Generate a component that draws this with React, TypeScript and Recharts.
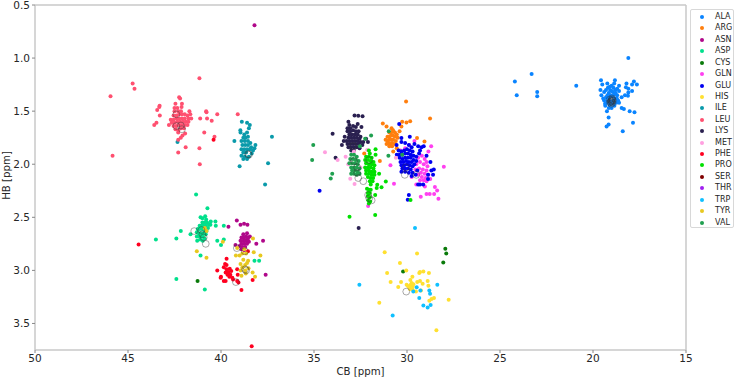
import React from 'react';
import {
  ScatterChart,
  Scatter,
  XAxis,
  YAxis,
  ReferenceLine,
} from 'recharts';

type Pt = [number, number];

const xTicks = [50, 45, 40, 35, 30, 25, 20, 15];
const yTicks = [0.5, 1.0, 1.5, 2.0, 2.5, 3.0, 3.5];

// [CB, HB]
const ALA: Pt[] = [
  [18.1, 1.0], [23.3, 1.15], [24.2, 1.22], [24.1, 1.35], [23.0, 1.32], [23.0, 1.36], [20.9, 1.26],
  [18.82, 1.21], [19.57, 1.21], [19.5, 1.25], [19.23, 1.24], [18.86, 1.24], [18.6, 1.26], [18.2, 1.24],
  [17.8, 1.22], [17.64, 1.25], [17.9, 1.25], [18.1, 1.29], [17.9, 1.31], [18.23, 1.275], [18.1, 1.325],
  [18.28, 1.35], [18.12, 1.355], [18.46, 1.37], [17.77, 1.51], [18.03, 1.5], [18.34, 1.48], [18.46, 1.47],
  [19.16, 1.56], [17.85, 1.61], [19.16, 1.625], [19.27, 1.645], [18.4, 1.69], [19.25, 1.5], [19.34, 1.45],
  [19.6, 1.3], [19.55, 1.35], [19.4, 1.32], [19.3, 1.3], [19.2, 1.28], [19.1, 1.27], [19.0, 1.26],
  [18.9, 1.28], [18.8, 1.3], [18.7, 1.29], [18.6, 1.31], [19.15, 1.33], [19.0, 1.31], [18.85, 1.34],
  [18.7, 1.35], [19.3, 1.37], [19.15, 1.38], [19.0, 1.36], [18.8, 1.38], [18.65, 1.4], [19.4, 1.4],
  [19.25, 1.42], [19.1, 1.44], [18.95, 1.43], [18.75, 1.42], [19.0, 1.47], [19.15, 1.47], [19.45, 1.38],
  [19.08, 1.3], [18.93, 1.32], [18.78, 1.33], [18.95, 1.36], [19.08, 1.35], [19.22, 1.35], [18.72, 1.38],
  [18.9, 1.4], [19.05, 1.41], [19.2, 1.4], [18.85, 1.45], [19.35, 1.43], [18.6, 1.42],
];
const ARG: Pt[] = [
  [30.05, 1.41], [28.76, 1.57], [31.3, 1.616], [31.1, 1.645], [30.83, 1.66], [30.26, 1.6], [30.03, 1.607],
  [29.83, 1.594], [30.3, 1.645], [30.4, 1.69], [29.46, 1.754], [29.06, 1.786], [31.46, 1.97], [32.3, 1.9],
  [30.74, 1.88], [30.55, 1.85], [30.95, 1.7], [30.85, 1.7], [30.75, 1.68], [30.65, 1.7], [30.55, 1.72],
  [31.05, 1.74], [30.95, 1.74], [30.85, 1.73], [30.75, 1.73], [30.65, 1.74], [30.5, 1.75], [31.15, 1.77],
  [31.05, 1.78], [30.95, 1.77], [30.85, 1.77], [30.75, 1.77], [30.6, 1.78], [31.1, 1.81], [31.0, 1.8],
  [30.9, 1.81], [30.8, 1.8], [30.65, 1.81], [30.95, 1.83], [30.8, 1.83],
];
const ASN: Pt[] = [
  [38.2, 0.69], [39.15, 2.53], [38.95, 2.57], [38.76, 2.56], [38.58, 2.57], [39.6, 2.59], [37.74, 2.72],
  [38.1, 2.75], [37.6, 3.04], [39.22, 2.76], [38.8, 2.66], [38.6, 2.65], [38.45, 2.68], [38.9, 2.69],
  [38.75, 2.69], [38.65, 2.68], [38.55, 2.7], [38.95, 2.72], [38.8, 2.72], [38.7, 2.72], [38.6, 2.72],
  [38.5, 2.73], [38.9, 2.75], [38.75, 2.75], [38.6, 2.75], [39.0, 2.77], [38.85, 2.78], [38.7, 2.78],
  [38.9, 2.8], [38.75, 2.81],
];
const ASP: Pt[] = [
  [41.34, 2.285], [40.73, 2.415], [43.5, 2.71], [42.4, 2.7], [42.16, 2.63], [41.64, 2.66], [42.4, 3.08],
  [41.1, 2.86], [40.87, 3.18], [40.3, 2.54], [40.28, 2.58], [40.55, 2.54], [40.57, 2.57], [39.85, 2.58],
  [40.2, 2.72], [39.85, 2.71], [40.0, 2.76], [38.2, 2.91], [37.95, 2.91], [41.1, 2.5], [41.0, 2.51],
  [40.85, 2.49], [40.8, 2.52], [41.0, 2.55], [40.88, 2.55], [40.75, 2.55], [40.65, 2.57], [41.15, 2.58],
  [41.05, 2.58], [40.95, 2.58], [40.82, 2.58], [40.7, 2.6], [41.25, 2.61], [41.15, 2.61], [41.02, 2.61],
  [40.9, 2.62], [40.78, 2.63], [41.3, 2.64], [41.2, 2.65], [41.08, 2.65], [40.95, 2.65], [40.82, 2.66],
  [41.3, 2.68], [41.15, 2.68], [41.0, 2.68], [40.88, 2.7], [41.28, 2.72], [41.12, 2.71], [40.98, 2.72],
];
const CYS: Pt[] = [
  [41.26, 3.1], [27.94, 2.796], [27.89, 2.84], [28.05, 2.925], [30.21, 3.01],
];
const GLN: Pt[] = [
  [28.02, 2.024], [28.31, 2.325], [28.38, 2.247], [28.5, 2.215], [28.54, 2.28], [28.78, 2.28], [28.95, 2.28],
  [29.26, 2.306], [30.7, 2.184], [30.89, 2.01], [32.09, 2.394], [28.7, 1.83], [28.85, 1.88], [29.04, 2.21],
  [29.5, 2.19], [29.6, 1.78], [29.88, 1.82], [29.4, 1.94], [29.2, 1.92], [29.05, 1.95], [28.95, 1.98],
  [29.5, 2.0], [29.3, 1.98], [29.1, 2.0], [28.9, 2.02], [29.55, 2.05], [29.35, 2.04], [29.15, 2.05],
  [28.95, 2.06], [29.25, 2.08], [29.05, 2.09], [28.85, 2.1], [29.4, 2.1], [29.2, 2.12], [29.0, 2.13],
  [29.1, 2.15], [28.95, 2.16], [29.3, 2.15], [28.75, 2.14], [30.1, 1.85], [29.75, 2.12], [30.35, 1.87],
];
const GLU: Pt[] = [
  [34.7, 2.25], [30.42, 1.62], [29.9, 2.29], [29.96, 2.335], [29.22, 1.84], [29.1, 1.83], [29.85, 1.74],
  [30.3, 1.754], [30.56, 1.82], [28.74, 1.98], [28.95, 1.92], [28.69, 2.06], [28.56, 2.05], [28.87, 2.1],
  [29.3, 2.19], [29.13, 2.19], [29.4, 2.19], [28.87, 2.14], [28.6, 2.1], [29.75, 2.11], [29.53, 2.1],
  [30.3, 1.79], [30.1, 1.8], [29.9, 1.82], [29.6, 1.81], [29.4, 1.83], [29.3, 1.87], [29.75, 1.84],
  [30.45, 1.87], [30.3, 1.88], [30.15, 1.87], [30.0, 1.86], [29.85, 1.87], [29.7, 1.88], [30.55, 1.91],
  [30.4, 1.91], [30.25, 1.91], [30.1, 1.9], [29.95, 1.9], [29.8, 1.91], [29.65, 1.92], [29.5, 1.93],
  [30.4, 1.94], [30.25, 1.95], [30.1, 1.94], [29.95, 1.94], [29.8, 1.94], [29.65, 1.96], [29.5, 1.97],
  [30.35, 1.98], [30.2, 1.98], [30.05, 1.97], [29.9, 1.98], [29.75, 1.98], [29.6, 2.0], [30.3, 2.01],
  [30.15, 2.01], [30.0, 2.0], [29.85, 2.01], [29.7, 2.02], [30.25, 2.04], [30.1, 2.04], [29.95, 2.04],
  [29.8, 2.05], [30.3, 2.07], [30.1, 2.07], [29.9, 2.08], [29.7, 2.08], [29.45, 2.06], [29.35, 1.9],
];
const HIS: Pt[] = [
  [31.2, 2.83], [29.46, 2.84], [30.38, 2.93], [31.07, 3.025], [30.04, 3.0], [29.34, 3.025], [29.3, 3.015],
  [29.12, 3.01], [28.82, 3.025], [29.71, 3.06], [29.82, 3.09], [30.32, 3.11], [30.88, 3.11], [30.47, 3.156],
  [30.02, 3.135], [29.93, 3.15], [29.75, 3.12], [29.7, 3.15], [29.45, 3.11], [29.3, 3.1], [29.16, 3.125],
  [28.89, 3.1], [28.85, 3.144], [29.84, 3.175], [29.7, 3.18], [29.52, 3.2], [29.25, 3.19], [28.8, 3.285],
  [28.68, 3.27], [28.55, 3.26], [27.76, 3.276], [31.49, 3.304], [28.42, 3.564], [29.8, 3.135], [29.66, 3.13],
  [29.88, 3.16],
];
const ILE: Pt[] = [
  [42.34, 1.79], [38.88, 1.6], [38.6, 1.61], [38.45, 1.63], [38.96, 1.68], [38.95, 1.7], [39.28, 1.78],
  [39.0, 2.02], [37.26, 1.74], [37.47, 1.99], [37.63, 2.19], [38.75, 1.72], [38.6, 1.7], [38.5, 1.66],
  [38.8, 1.75], [38.68, 1.75], [38.55, 1.74], [38.9, 1.78], [38.72, 1.78], [38.55, 1.78], [38.42, 1.8],
  [38.85, 1.82], [38.7, 1.82], [38.55, 1.82], [38.38, 1.84], [38.2, 1.85], [38.15, 1.82], [38.9, 1.86],
  [38.75, 1.86], [38.6, 1.86], [38.45, 1.86], [38.28, 1.87], [38.8, 1.89], [38.65, 1.89], [38.35, 1.9],
  [38.9, 1.92], [38.72, 1.93], [38.5, 1.93], [38.8, 1.95], [38.6, 1.95],
];
const LEU: Pt[] = [
  [45.94, 1.36], [45.83, 1.92], [44.75, 1.24], [44.65, 1.29], [41.16, 1.19], [43.59, 1.63], [43.47, 1.61],
  [43.43, 1.49], [43.32, 1.46], [43.29, 1.54], [43.3, 1.45], [42.8, 1.63], [42.25, 1.37], [42.2, 1.38],
  [42.1, 1.43], [42.12, 1.46], [41.12, 1.57], [40.8, 1.5], [40.78, 1.51], [40.75, 1.57], [40.5, 1.59],
  [40.2, 1.53], [40.9, 1.7], [40.35, 1.74], [39.1, 1.53], [41.16, 1.85], [41.14, 2.0], [41.9, 1.84],
  [42.3, 1.89], [41.93, 1.71], [42.07, 1.73], [42.16, 1.75], [42.3, 1.77], [42.45, 1.43], [42.5, 1.47],
  [42.35, 1.47], [42.5, 1.5], [42.3, 1.5], [42.15, 1.5], [41.7, 1.5], [41.65, 1.53], [42.55, 1.54],
  [42.4, 1.54], [42.25, 1.53], [42.1, 1.53], [41.95, 1.53], [41.8, 1.54], [42.7, 1.58], [42.55, 1.58],
  [42.4, 1.57], [42.25, 1.57], [42.1, 1.57], [41.95, 1.57], [41.75, 1.57], [41.6, 1.57], [42.65, 1.61],
  [42.5, 1.61], [42.35, 1.6], [42.2, 1.6], [42.05, 1.6], [41.9, 1.6], [41.75, 1.6], [42.55, 1.64],
  [42.4, 1.64], [42.25, 1.63], [42.1, 1.63], [41.95, 1.63], [41.8, 1.63], [42.45, 1.67], [42.3, 1.68],
  [42.15, 1.66], [42.0, 1.66], [42.3, 1.7],
];
const LYS: Pt[] = [
  [32.82, 1.54], [32.62, 1.544], [32.39, 1.547], [34.0, 1.713], [33.84, 1.94], [32.6, 2.6], [33.15, 1.6],
  [33.1, 1.63], [32.65, 1.62], [32.45, 1.65], [33.2, 1.66], [33.05, 1.66], [32.9, 1.64], [32.75, 1.65],
  [33.2, 1.69], [33.05, 1.69], [32.9, 1.68], [32.75, 1.69], [32.6, 1.69], [33.1, 1.72], [32.95, 1.72],
  [32.8, 1.72], [32.65, 1.72], [32.5, 1.74], [33.35, 1.74], [33.15, 1.75], [33.0, 1.75], [32.85, 1.75],
  [32.7, 1.75], [32.55, 1.76], [32.2, 1.76], [33.4, 1.78], [33.25, 1.78], [33.1, 1.78], [32.95, 1.78],
  [32.8, 1.78], [32.65, 1.78], [32.5, 1.79], [32.35, 1.79], [33.5, 1.82], [33.2, 1.81], [33.05, 1.81],
  [32.9, 1.81], [32.75, 1.81], [32.6, 1.81], [32.4, 1.82], [32.1, 1.79], [33.15, 1.84], [33.0, 1.84],
  [32.85, 1.84], [32.7, 1.84], [32.55, 1.85], [33.0, 1.87], [32.85, 1.87],
];
const MET: Pt[] = [
  [34.41, 1.886], [33.73, 1.96], [33.05, 2.137], [32.82, 2.187], [33.3, 1.93], [32.85, 1.88], [33.16, 2.0],
  [32.14, 1.865], [32.5, 2.03], [32.2, 1.98], [30.6, 1.94], [33.0, 1.96],
];
const PHE: Pt[] = [
  [44.43, 2.755], [38.35, 3.715], [39.7, 2.89], [40.2, 3.0], [40.0, 3.06], [39.85, 3.1], [39.75, 3.1],
  [38.9, 3.185], [38.3, 3.09], [39.13, 2.99], [39.1, 3.04], [39.13, 3.1], [39.06, 3.115], [39.78, 2.94],
  [39.7, 2.95], [39.85, 2.97], [39.53, 2.985], [39.7, 2.99], [39.6, 3.015], [39.5, 3.04], [39.39, 3.07],
  [39.35, 3.085], [39.45, 3.005], [40.02, 3.07], [39.75, 3.02], [39.65, 3.04], [39.55, 3.06], [40.4, 1.77],
  [38.55, 2.82],
];
const PRO: Pt[] = [
  [33.09, 2.494], [31.71, 2.479], [29.81, 2.338], [31.69, 1.858], [31.14, 2.162], [31.37, 2.218], [31.6, 2.193],
  [31.63, 2.225], [31.5, 2.09], [31.69, 1.91], [31.71, 2.29], [32.05, 1.87], [32.0, 1.9], [32.2, 1.93],
  [32.05, 1.93], [31.9, 1.94], [32.25, 1.96], [32.1, 1.96], [31.95, 1.97], [31.8, 1.98], [32.2, 1.99],
  [32.05, 2.0], [31.9, 2.0], [31.75, 2.01], [32.25, 2.03], [32.1, 2.03], [31.95, 2.03], [31.8, 2.04],
  [32.2, 2.06], [32.05, 2.06], [31.9, 2.07], [31.75, 2.07], [32.2, 2.09], [32.05, 2.09], [31.9, 2.1],
  [31.75, 2.1], [32.1, 2.12], [31.95, 2.13], [31.82, 2.13], [32.0, 2.16], [31.85, 2.16], [31.95, 2.19],
  [32.15, 2.23], [32.05, 2.24], [31.95, 2.24], [32.1, 2.27], [32.0, 2.27], [32.1, 2.3], [32.0, 2.31],
  [32.08, 2.34], [31.98, 2.35], [32.05, 2.37],
];
const TRP: Pt[] = [
  [32.56, 3.135], [29.57, 2.6], [30.77, 3.426], [28.37, 3.135], [29.48, 3.16], [29.66, 3.2], [29.28, 3.19],
  [28.8, 3.19], [28.76, 3.22], [29.34, 3.26], [29.12, 3.33], [28.89, 3.35], [28.73, 3.325],
];
const TYR: Pt[] = [
  [41.3, 2.82], [40.78, 2.88], [39.9, 2.73], [40.87, 2.6], [40.78, 2.63], [38.28, 2.7], [38.24, 2.83],
  [37.88, 2.86], [38.17, 3.06], [38.3, 3.02], [38.9, 3.05], [39.2, 2.86], [39.0, 2.86], [39.13, 2.79],
  [38.8, 2.9], [38.54, 2.91], [38.95, 2.94], [38.7, 2.95], [38.52, 2.98], [38.7, 3.0], [38.95, 3.0],
  [38.67, 3.03], [38.85, 2.84], [38.65, 2.84], [38.85, 2.97], [38.6, 2.93], [38.75, 2.8],
];
const VAL: Pt[] = [
  [35.04, 1.82], [35.1, 1.96], [34.02, 2.09], [34.1, 2.134], [30.98, 1.69], [31.0, 1.92], [30.26, 1.91],
  [31.93, 1.73], [32.25, 1.76], [32.53, 1.83], [33.0, 1.91], [32.85, 1.91], [32.7, 1.93], [33.05, 1.95],
  [32.9, 1.95], [32.75, 1.96], [32.6, 1.97], [33.1, 1.99], [32.95, 1.99], [32.8, 1.99], [32.65, 2.0],
  [33.0, 2.03], [32.85, 2.03], [32.7, 2.03], [32.55, 2.04], [32.95, 2.06], [32.8, 2.06], [32.65, 2.07],
  [33.0, 2.09], [32.85, 2.09], [32.7, 2.1], [32.55, 2.09],
];
const SER: Pt[] = [];
const THR: Pt[] = [];

const openCircles: Pt[] = [
  [42.4, 1.53], [42.4, 1.64], [42.16, 1.635], [42.1, 1.67], [38.54, 1.905], [38.5, 1.91],
  [41.44, 2.63], [41.05, 2.62], [41.0, 2.66], [40.93, 2.69], [40.82, 2.75], [39.15, 2.79],
  [38.72, 2.82], [38.65, 3.0], [38.7, 2.99], [39.2, 3.11], [30.04, 3.2], [19.0, 1.4],
  [19.05, 1.41], [18.95, 1.42], [19.1, 1.39], [18.98, 1.38], [19.02, 1.43], [18.93, 1.4],
  [19.08, 1.42], [19.0, 1.41], [18.97, 1.39], [32.03, 1.96], [32.68, 2.03],
  [32.68, 2.08], [32.62, 2.13], [32.85, 1.97], [32.09, 2.29], [31.9, 2.34], [32.03, 2.32],
  [30.07, 2.03], [30.12, 2.1], [29.5, 2.1], [32.9, 1.83], [32.35, 2.16],
];

const residues: { name: string; color: string; points: Pt[] }[] = [
  { name: 'ALA', color: '#0a84ff', points: ALA },
  { name: 'ARG', color: '#ff7f0e', points: ARG },
  { name: 'ASN', color: '#b0088a', points: ASN },
  { name: 'ASP', color: '#00e08c', points: ASP },
  { name: 'CYS', color: '#0a7a0a', points: CYS },
  { name: 'GLN', color: '#ff40f0', points: GLN },
  { name: 'GLU', color: '#0000f0', points: GLU },
  { name: 'HIS', color: '#ffe030', points: HIS },
  { name: 'ILE', color: '#0a9aaa', points: ILE },
  { name: 'LEU', color: '#ff5070', points: LEU },
  { name: 'LYS', color: '#2a2050', points: LYS },
  { name: 'MET', color: '#ffa0e0', points: MET },
  { name: 'PHE', color: '#ff0020', points: PHE },
  { name: 'PRO', color: '#00e000', points: PRO },
  { name: 'SER', color: '#800000', points: SER },
  { name: 'THR', color: '#a020f0', points: THR },
  { name: 'TRP', color: '#10c0ff', points: TRP },
  { name: 'TYR', color: '#e8c820', points: TYR },
  { name: 'VAL', color: '#20a050', points: VAL },
];

const toRows = (pts: Pt[]) => pts.map(([cb, hb]) => ({ cb, hb }));
const font = '"DejaVu Sans", sans-serif';
const spine = '#c8c8c8';
const ink = '#262626';

const ShiftLegend = () => (
  <div
    style={{
      position: 'absolute',
      left: 690,
      top: 9,
      width: 44,
      height: 219,
      boxSizing: 'border-box',
      border: '1px solid #d8d8d8',
      borderRadius: 2,
      background: '#fff',
      paddingTop: 1,
      fontFamily: font,
      fontSize: 8,
      color: ink,
    }}
  >
    {residues.map((r) => (
      <div key={r.name} style={{ height: 11.43, lineHeight: '11.43px', position: 'relative' }}>
        <span
          style={{
            position: 'absolute',
            left: 8.5,
            top: 4,
            width: 4,
            height: 4,
            borderRadius: '50%',
            background: r.color,
          }}
        />
        <span style={{ position: 'absolute', left: 24 }}>{r.name}</span>
      </div>
    ))}
  </div>
);

const App: React.FC = () => {
  const tickStyle = { fontSize: 10.5, fill: ink, fontFamily: font };
  const labelStyle = { fontSize: 10.2, fill: ink, fontFamily: font };

  return (
    <div style={{ position: 'absolute', left: 0, top: 0, width: 737, height: 380, background: '#fff' }}>
      <ScatterChart width={737} height={380} margin={{ top: 5, right: 51, bottom: 0, left: 0 }}>
        <XAxis
          type="number"
          dataKey="cb"
          domain={[15, 50]}
          reversed
          allowDataOverflow
          ticks={xTicks}
          interval={0}
          tick={tickStyle}
          tickSize={3}
          tickLine={{ stroke: '#888' }}
          axisLine={{ stroke: spine, strokeWidth: 1.5 }}
          height={30}
          label={{ value: 'CB [ppm]', position: 'insideBottom', offset: 5, style: labelStyle }}
        />
        <YAxis
          type="number"
          dataKey="hb"
          domain={[0.5, 3.75]}
          reversed
          allowDataOverflow
          ticks={yTicks}
          interval={0}
          tickFormatter={(v: number) => v.toFixed(1)}
          tick={tickStyle}
          tickSize={3}
          tickLine={{ stroke: '#888' }}
          axisLine={{ stroke: spine, strokeWidth: 1.5 }}
          width={35}
          label={{ value: 'HB [ppm]', angle: -90, position: 'center', dx: -11.5, dy: -2, style: labelStyle }}
        />
        <ReferenceLine x={15} stroke={spine} strokeWidth={1.5} />
        <ReferenceLine y={0.5} stroke={spine} strokeWidth={1.5} />
        {residues.map((r) => (
          <Scatter
            key={r.name}
            name={r.name}
            data={toRows(r.points)}
            isAnimationActive={false}
            shape={(p: any) => <circle cx={p.cx} cy={p.cy} r={2} fill={r.color} />}
          />
        ))}
        <Scatter
          name="assigned"
          data={toRows(openCircles)}
          isAnimationActive={false}
          shape={(p: any) => (
            <circle cx={p.cx} cy={p.cy} r={3.4} fill="none" stroke="#333" strokeOpacity={0.6} strokeWidth={0.7} />
          )}
        />
      </ScatterChart>
      <ShiftLegend />
    </div>
  );
};

export default App;
